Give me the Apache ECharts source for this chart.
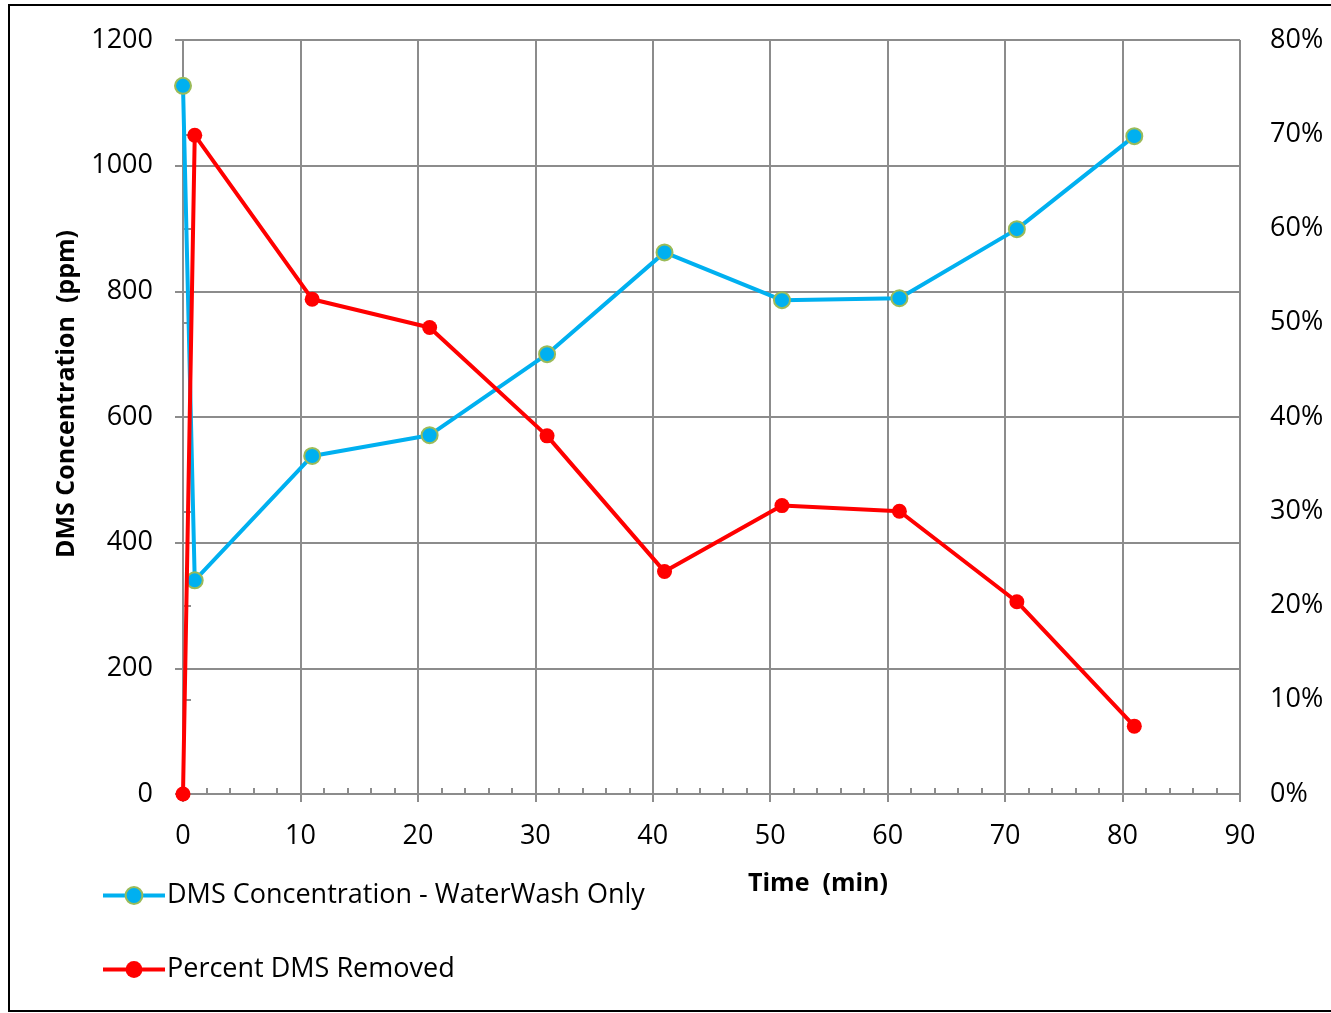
<!DOCTYPE html>
<html><head><meta charset="utf-8">
<script src="https://cdn.jsdelivr.net/npm/echarts@6/dist/echarts.min.js"></script>
<style>html,body{margin:0;padding:0;background:#fff}#c{width:1331px;height:1013px}</style>
</head><body><div id="c"></div>
<script>
const timeMin = [0, 1, 11, 21, 31, 41, 51, 61, 71, 81];
const dmsConc = [1127, 340, 538, 571, 700, 862, 786, 789, 899, 1047];
const pctRemoved = [0, 69.9, 52.5, 49.5, 38.0, 23.6, 30.6, 30.0, 20.4, 7.2];
const seriesNames = ['DMS Concentration - WaterWash Only', 'Percent DMS Removed'];
const xTitle = 'Time  (min)';
const yTitle = 'DMS Concentration  (ppm)';

const FONT = 'Open Sans';
const chart = echarts.init(document.getElementById('c'));
const gridCol = '#8c8c8c';
chart.setOption({
  animation: false,
  textStyle: {fontFamily: FONT, color: '#000'},
  graphic: [
    {type: 'rect', shape: {x: 9, y: 5, width: 1340, height: 1006}, style: {fill: 'none', stroke: '#000', lineWidth: 2}, z: 100},
    {type: 'text', x: 818, y: 884, style: {text: xTitle, font: 'bold 25px "Open Sans"', fill: '#000', align: 'center', verticalAlign: 'middle'}},
    {type: 'text', x: 67, y: 394, rotation: Math.PI / 2, style: {text: yTitle, font: 'bold 25px "Open Sans"', fill: '#000', align: 'center', verticalAlign: 'middle'}}
  ],
  grid: {left: 183, right: 91, top: 40, bottom: 219},
  legend: {
    orient: 'vertical', left: 101, top: 882, padding: 0, itemGap: 47, itemWidth: 62, itemHeight: 21,
    lineStyle: {width: 4},
    textStyle: {fontSize: 27, fontFamily: FONT, color: '#000', padding: [0,0,0,-3]},
    data: seriesNames
  },
  xAxis: [{
    type: 'value', min: 0, max: 90, interval: 10,
    axisLine: {show: true, onZero: false, lineStyle: {color: gridCol, width: 2}},
    axisTick: {show: true, length: 8, lineStyle: {color: gridCol, width: 2}},
    axisLabel: {fontSize: 27, color: '#000', margin: 29, fontFamily: FONT},
    splitLine: {show: true, lineStyle: {color: gridCol, width: 2}}
  }, {
    type: 'value', min: 0, max: 90, interval: 2, position: 'bottom',
    axisLine: {show: false}, axisLabel: {show: false}, splitLine: {show: false},
    axisTick: {show: true, inside: true, length: 6, lineStyle: {color: gridCol, width: 2}}
  }],
  yAxis: [{
    type: 'value', min: 0, max: 1200, interval: 200,
    axisLine: {show: true, lineStyle: {color: gridCol, width: 2}},
    axisTick: {show: true, length: 8, lineStyle: {color: gridCol, width: 2}},
    axisLabel: {fontSize: 27, color: '#000', margin: 30, fontFamily: FONT, formatter: v => String(v)},
    splitLine: {show: true, lineStyle: {color: gridCol, width: 2}}
  }, {
    type: 'value', min: 0, max: 80, interval: 10, position: 'right',
    axisLine: {show: true, lineStyle: {color: gridCol, width: 2}},
    axisTick: {show: true, length: 8, lineStyle: {color: gridCol, width: 2}},
    axisLabel: {fontSize: 27, color: '#000', margin: 30, formatter: '{value}%', fontFamily: FONT},
    splitLine: {show: false}
  }],
  series: [{
    name: seriesNames[0], type: 'line', xAxisIndex: 0, yAxisIndex: 0,
    data: timeMin.map((t, i) => [t, dmsConc[i]]),
    symbol: 'circle', symbolSize: 16,
    lineStyle: {color: '#00B0F0', width: 4},
    itemStyle: {color: '#00B0F0', borderColor: '#9BBB59', borderWidth: 2},
    z: 3
  }, {
    name: seriesNames[1], type: 'line', xAxisIndex: 0, yAxisIndex: 1,
    data: timeMin.map((t, i) => [t, pctRemoved[i]]),
    symbol: 'circle', symbolSize: 15,
    lineStyle: {color: '#FF0000', width: 4},
    itemStyle: {color: '#FF0000', borderColor: '#FF0000', borderWidth: 0},
    z: 4
  }]
});
</script></body></html>
